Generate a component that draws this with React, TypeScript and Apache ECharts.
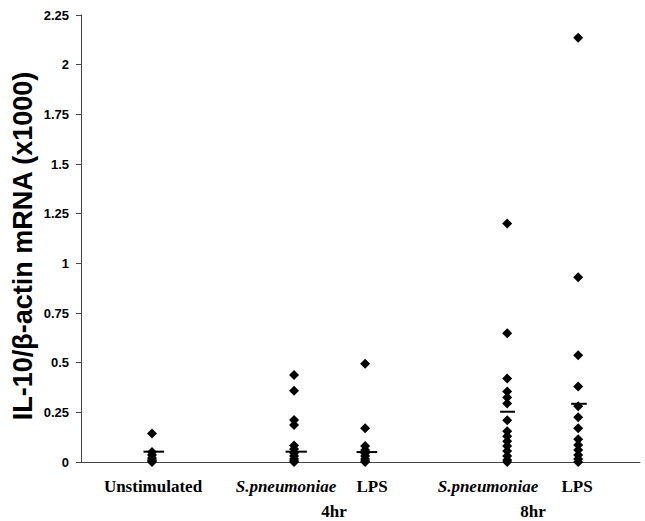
import React, { useEffect, useRef } from "react";
import * as echarts from "echarts";

// Category positions on a hidden numeric x axis
const groupNames = ["Unstimulated", "S.pneumoniae 4hr", "LPS 4hr", "S.pneumoniae 8hr", "LPS 8hr"];
const groupX = [1, 3, 4, 6, 7];

// IL-10/β-actin mRNA (x1000) values
const unstimulated = [0.144, 0.05, 0.035, 0.02, 0.01, 0.005, 0];
const spn4hr = [0.438, 0.359, 0.211, 0.186, 0.083, 0.065, 0.045, 0.03, 0.015, 0.005, 0];
const lps4hr = [0.495, 0.17, 0.08, 0.06, 0.045, 0.03, 0.015, 0.005, 0];
const spn8hr = [1.2, 0.648, 0.42, 0.355, 0.325, 0.295, 0.21, 0.155, 0.13, 0.105, 0.08, 0.055, 0.03, 0.01, 0];
const lps8hr = [2.135, 0.93, 0.537, 0.38, 0.28, 0.225, 0.17, 0.115, 0.085, 0.06, 0.035, 0.015, 0];
const groupValues = [unstimulated, spn4hr, lps4hr, spn8hr, lps8hr];

// Horizontal central-value bars
const centralValues = [0.052, 0.052, 0.05, 0.253, 0.293];

// Axis
const yMin = 0;
const yMax = 2.25;
const yInterval = 0.25;

// Labels
const categoryLabels = ["Unstimulated", "S.pneumoniae", "LPS", "S.pneumoniae", "LPS"];
const categoryItalic = [false, true, false, true, false];
const timeLabels = ["4hr", "8hr"];
const yTitle = "IL-10/β-actin mRNA (x1000)";

export default function App() {
  const ref = useRef<HTMLDivElement>(null);

  useEffect(() => {
    if (!ref.current) return;
    const chart = echarts.init(ref.current, undefined, { renderer: "svg" });

    const barLeft = [-0.12, -0.12, -0.12, -0.1, -0.1];
    const barRight = [0.17, 0.18, 0.17, 0.11, 0.12];
    const labelX = [153, 286, 372, 488, 577];
    const timeX = [334, 533];

    const scatterSeries = groupValues.map((vals, i) => ({
      type: "scatter",
      name: groupNames[i],
      symbol: "diamond",
      symbolSize: 10,
      itemStyle: { color: "#000", opacity: 1 },
      z: 3,
      data: vals.map((v) => [groupX[i], v]),
    }));

    const barSeries = centralValues.map((m, i) => ({
      type: "line",
      name: groupNames[i] + " centre",
      symbol: "none",
      lineStyle: { color: "#000", width: 2 },
      z: 2,
      data: [
        [groupX[i] + barLeft[i], m],
        [groupX[i] + barRight[i], m],
      ],
    }));

    const graphics: any[] = [
      {
        type: "text",
        x: 23,
        y: 246,
        rotation: Math.PI / 2,
        style: {
          text: yTitle,
          font: "bold 27px 'Liberation Sans', Arial, sans-serif",
          fill: "#000",
          textAlign: "center",
          textVerticalAlign: "middle",
        },
      },
    ];
    categoryLabels.forEach((t, i) => {
      graphics.push({
        type: "text",
        x: labelX[i],
        y: 486,
        style: {
          text: t,
          font: (categoryItalic[i] ? "italic " : "") + "bold 17px 'Liberation Serif', 'Times New Roman', serif",
          fill: "#000",
          textAlign: "center",
          textVerticalAlign: "middle",
        },
      });
    });
    timeLabels.forEach((t, i) => {
      graphics.push({
        type: "text",
        x: timeX[i],
        y: 511,
        style: {
          text: t,
          font: "bold 17px 'Liberation Serif', 'Times New Roman', serif",
          fill: "#000",
          textAlign: "center",
          textVerticalAlign: "middle",
        },
      });
    });

    chart.setOption({
      animation: false,
      backgroundColor: "#fff",
      grid: { left: 81, right: 5, top: 15, bottom: 59, containLabel: false },
      xAxis: {
        type: "value",
        min: 0,
        max: 7.87,
        axisLine: { show: true, lineStyle: { color: "#444", width: 1 } },
        axisTick: { show: false },
        axisLabel: { show: false },
        splitLine: { show: false },
      },
      yAxis: {
        type: "value",
        min: yMin,
        max: yMax,
        interval: yInterval,
        axisLine: { show: true, lineStyle: { color: "#444", width: 1 } },
        axisTick: { show: true, inside: false, length: 5, lineStyle: { color: "#444" } },
        axisLabel: {
          color: "#000",
          fontFamily: "'Liberation Sans', Arial, sans-serif",
          fontWeight: "bold",
          fontSize: 13,
          margin: 12,
        },
        splitLine: { show: false },
      },
      series: [...barSeries, ...scatterSeries],
      graphic: graphics,
    });

    return () => chart.dispose();
  }, []);

  return (
    <div
      ref={ref}
      style={{ position: "fixed", left: 0, top: 0, width: 645, height: 521, background: "#fff" }}
    />
  );
}
